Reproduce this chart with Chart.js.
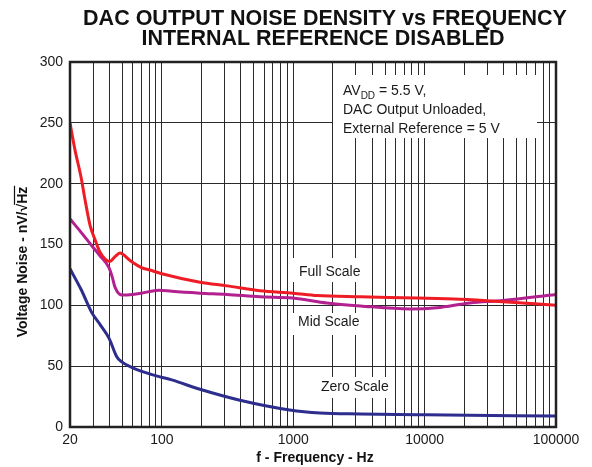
<!DOCTYPE html>
<html>
<head>
<meta charset="utf-8">
<script src="https://cdn.jsdelivr.net/npm/chart.js@4/dist/chart.umd.min.js"></script>
<style>
  html, body { margin: 0; padding: 0; background: #fff; }
  #wrap { width: 592px; height: 467px; position: relative; }
</style>
</head>
<body>
<div id="wrap"><canvas id="noise-chart"></canvas></div>
<script>
// ===== Noise density data (Hz, nV/rtHz) =====
const fullFreq  = [20, 21.8, 24.3, 26, 28.4, 31, 33.7, 37, 40, 44, 48, 57, 70, 81, 100, 195, 313, 557, 1000, 1520, 3250, 8740, 18600, 39500, 100000];
const fullNoise = [250, 228, 205, 187, 166, 154, 144, 138, 136, 140, 143, 137, 131, 129, 126, 119, 116, 112, 110, 108, 107, 106, 105, 103, 100];

const midFreq  = [20, 24.3, 29.3, 33.7, 39.6, 42, 44, 49.5, 60, 70, 95, 119, 195, 313, 557, 990, 1800, 3250, 7740, 12400, 22100, 39500, 100000];
const midNoise = [171, 160, 149, 141, 131, 123, 115, 108.5, 109, 110, 112.5, 111.5, 110, 109, 107, 106, 102, 99.5, 97, 98, 102, 104, 109];

const zeroFreq  = [20, 24.3, 29.3, 34, 39.6, 45.5, 49.5, 59, 84, 119, 195, 393, 940, 1600, 3250, 10000, 100000];
const zeroNoise = [130, 113, 94, 84, 73, 57.5, 53.5, 49, 43, 38.7, 31, 22, 14, 11.5, 10.7, 10, 9];

const seriesNames = ['Full Scale', 'Mid Scale', 'Zero Scale'];
const xLabelTicks = [20, 100, 1000, 10000, 100000];
const yTicks = [0, 50, 100, 150, 200, 250, 300];

// grid lines at every 1..9 multiple of each decade, 20 Hz to 100 kHz
const xGridTicks = [];
for (let dec = 10; dec <= 10000; dec *= 10) {
  for (let m = 1; m < 10; m++) {
    const v = m * dec;
    if (v >= 20) xGridTicks.push(v);
  }
}
xGridTicks.push(100000);

const FONT = '"Liberation Sans", Arial, Helvetica, sans-serif';
const GRID = '#2a2a2a';

function toPoints(xs, ys) {
  return xs.map((x, i) => ({ x, y: ys[i] }));
}

// white-backed text labels sitting on the grid
function labelBox(ctx, text, x, y, box) {
  ctx.fillStyle = '#fff';
  ctx.fillRect(box[0], box[1], box[2], box[3]);
  ctx.fillStyle = '#1a1a1a';
  ctx.font = '14px ' + FONT;
  ctx.textAlign = 'left';
  ctx.textBaseline = 'middle';
  ctx.fillText(text, x, y);
}

const decorations = {
  id: 'decorations',
  beforeDatasetsDraw(chart) {
    const ctx = chart.ctx;
    ctx.save();
    // conditions box
    ctx.fillStyle = '#fff';
    ctx.fillRect(333, 75, 204, 63);
    ctx.fillStyle = '#1a1a1a';
    ctx.textAlign = 'left';
    ctx.textBaseline = 'alphabetic';
    ctx.font = '14px ' + FONT;
    let x = 343;
    ctx.fillText('AV', x, 95);
    x += ctx.measureText('AV').width;
    ctx.font = '10px ' + FONT;
    ctx.fillText('DD', x, 99);
    x += ctx.measureText('DD').width;
    ctx.font = '14px ' + FONT;
    ctx.fillText(' = 5.5 V,', x, 95);
    ctx.fillText('DAC Output Unloaded,', 343, 114);
    ctx.fillText('External Reference = 5 V', 343, 133);

    labelBox(ctx, seriesNames[0], 299, 272, [293, 258, 74, 24]);
    labelBox(ctx, seriesNames[1], 298, 322, [293, 313, 74, 22]);
    labelBox(ctx, seriesNames[2], 321, 387, [318, 377, 77, 21]);
    ctx.restore();
  },
  afterDatasetsDraw(chart) {
    const { ctx, chartArea: a } = chart;
    ctx.save();
    ctx.strokeStyle = '#222';
    ctx.lineWidth = 2.5;
    ctx.strokeRect(a.left, a.top, a.right - a.left, a.bottom - a.top);
    ctx.restore();
  },
  afterDraw(chart) {
    const ctx = chart.ctx;
    ctx.save();
    ctx.fillStyle = '#111';
    ctx.textAlign = 'center';
    ctx.textBaseline = 'alphabetic';
    ctx.font = 'bold 21.5px ' + FONT;
    ctx.fillText('DAC OUTPUT NOISE DENSITY vs FREQUENCY', 325, 25);
    ctx.fillText('INTERNAL REFERENCE DISABLED', 323, 45);

    ctx.font = 'bold 14px ' + FONT;
    ctx.fillText('f - Frequency - Hz', 315, 462);

    // rotated y title with the radical bar over Hz
    const head = 'Voltage Noise - nV/\u221A';
    const tail = 'Hz';
    ctx.translate(27, 262);
    ctx.rotate(-Math.PI / 2);
    const wHead = ctx.measureText(head).width;
    const wTail = ctx.measureText(tail).width;
    const start = -(wHead + wTail) / 2;
    ctx.textAlign = 'left';
    ctx.fillText(head, start, 0);
    ctx.fillText(tail, start + wHead, 0);
    ctx.strokeStyle = '#111';
    ctx.lineWidth = 1.2;
    ctx.beginPath();
    ctx.moveTo(start + wHead - 1, -12.5);
    ctx.lineTo(start + wHead + wTail + 1, -12.5);
    ctx.stroke();
    ctx.restore();
  }
};

const ctx = document.getElementById('noise-chart').getContext('2d');

new Chart(ctx, {
  type: 'line',
  data: {
    datasets: [
      { label: seriesNames[0], data: toPoints(fullFreq, fullNoise), borderColor: '#ee1d25' },
      { label: seriesNames[1], data: toPoints(midFreq, midNoise), borderColor: '#b3208f' },
      { label: seriesNames[2], data: toPoints(zeroFreq, zeroNoise), borderColor: '#2c2d8c' },
    ].map(d => Object.assign(d, {
      borderWidth: 3,
      pointRadius: 0,
      fill: false,
      cubicInterpolationMode: 'monotone',
    })),
  },
  options: {
    responsive: true,
    maintainAspectRatio: false,
    animation: false,
    layout: { padding: { left: 0, top: 62, right: 36, bottom: 0 } },
    plugins: {
      legend: { display: false },
      tooltip: { enabled: false },
      title: { display: false },
    },
    scales: {
      x: {
        type: 'logarithmic',
        min: 20,
        max: 100000,
        afterBuildTicks: (scale) => { scale.ticks = xGridTicks.map(v => ({ value: v })); },
        afterFit: (scale) => { scale.height = 40; },
        grid: { color: GRID, lineWidth: 1, drawTicks: false },
        border: { display: false },
        ticks: {
          autoSkip: false,
          maxRotation: 0,
          padding: 5,
          color: '#1a1a1a',
          font: { family: FONT, size: 14 },
          callback: (v) => xLabelTicks.includes(v) ? String(v) : '',
        },
      },
      y: {
        min: 0,
        max: 300,
        afterBuildTicks: (scale) => { scale.ticks = yTicks.map(v => ({ value: v })); },
        afterFit: (scale) => { scale.width = 70; },
        grid: { color: GRID, lineWidth: 1, drawTicks: false },
        border: { display: false },
        ticks: {
          padding: 7,
          color: '#1a1a1a',
          font: { family: FONT, size: 14 },
        },
      },
    },
  },
  plugins: [decorations],
});
</script>
</body>
</html>
